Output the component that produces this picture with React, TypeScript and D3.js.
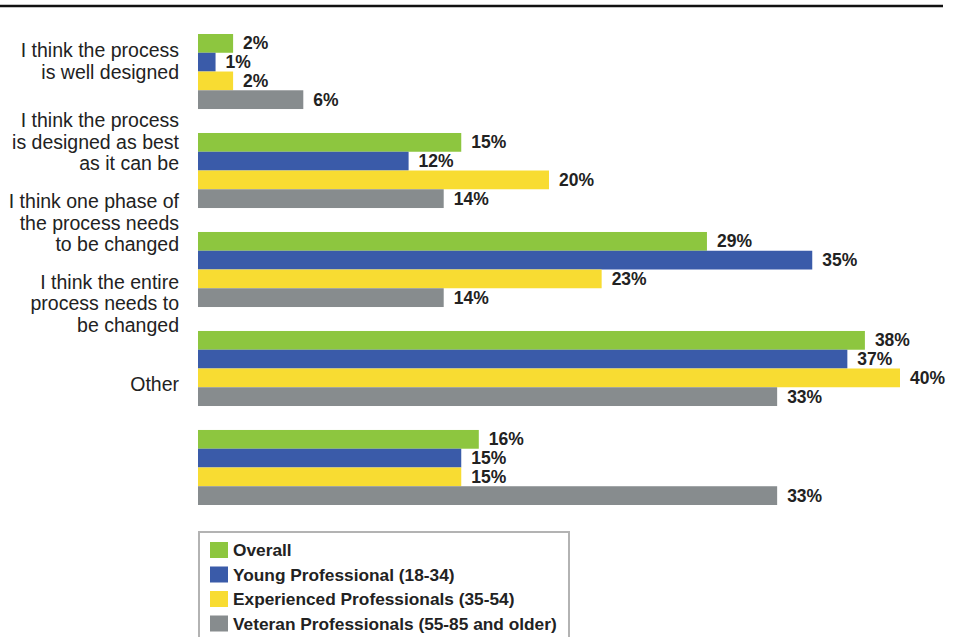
import React, { useEffect, useRef } from "react";
import * as d3 from "d3";

const categories = [
  "I think the process is well designed",
  "I think the process is designed as best as it can be",
  "I think one phase of the process needs to be changed",
  "I think the entire process needs to be changed",
  "Other",
];

// label lines as they are broken in the original
const categoryLines = [
  ["I think the process", "is well designed"],
  ["I think the process", "is designed as best", "as it can be"],
  ["I think one phase of", "the process needs", "to be changed"],
  ["I think the entire", "process needs to", "be changed"],
  ["Other"],
];

const seriesNames = [
  "Overall",
  "Young Professional (18-34)",
  "Experienced Professionals (35-54)",
  "Veteran Professionals (55-85 and older)",
];

const overall = [2, 15, 29, 38, 16];
const young = [1, 12, 35, 37, 15];
const experienced = [2, 20, 23, 40, 15];
const veteran = [6, 14, 14, 33, 33];

const seriesColors = ["#8dc63f", "#3a5ba9", "#f8dc32", "#878c8e"];

const W = 955;
const H = 637;

const App: React.FC = () => {
  const svgRef = useRef<SVGSVGElement>(null);

  useEffect(() => {
    if (!svgRef.current) return;
    const svg = d3.select(svgRef.current);
    svg.selectAll("*").remove();

    const seriesValues = [overall, young, experienced, veteran];

    const x = d3.scaleLinear().domain([0, 40]).range([198, 900]);

    const yGroup = d3
      .scaleBand()
      .domain(categories)
      .range([34, 505])
      .paddingInner(0.242)
      .paddingOuter(0);

    const ySeries = d3
      .scaleBand()
      .domain(seriesNames)
      .range([0, yGroup.bandwidth()]);

    // category labels sit on their own evenly spaced grid
    const yLabel = d3.scalePoint().domain(categories).range([61, 384]);

    // top rule
    svg
      .append("line")
      .attr("x1", 0)
      .attr("x2", 943)
      .attr("y1", 6)
      .attr("y2", 6)
      .attr("stroke", "#111")
      .attr("stroke-width", 2.5);

    // bars
    seriesNames.forEach((name, si) => {
      const vals = seriesValues[si];
      const g = svg.append("g");
      g.selectAll("rect")
        .data(categories)
        .enter()
        .append("rect")
        .attr("x", x(0))
        .attr("y", (c) => (yGroup(c) || 0) + (ySeries(name) || 0))
        .attr("width", (c, i) => x(vals[i]) - x(0))
        .attr("height", ySeries.bandwidth())
        .attr("fill", seriesColors[si]);

      g.selectAll("text")
        .data(categories)
        .enter()
        .append("text")
        .attr("x", (c, i) => x(vals[i]) + 10)
        .attr(
          "y",
          (c) =>
            (yGroup(c) || 0) + (ySeries(name) || 0) + ySeries.bandwidth() / 2
        )
        .attr("dominant-baseline", "central")
        .style("font-family", "'Liberation Sans', Arial, sans-serif")
        .style("font-weight", "bold")
        .style("font-size", "17.5px")
        .style("fill", "#222")
        .text((c, i) => `${vals[i]}%`);
    });

    // category labels
    const lineH = 21.5;
    categories.forEach((c, i) => {
      const lines = categoryLines[i];
      const cy = yLabel(c) || 0;
      const t = svg
        .append("text")
        .attr("text-anchor", "end")
        .style("font-family", "'Liberation Sans', Arial, sans-serif")
        .style("font-size", "19.5px")
        .style("fill", "#222");
      lines.forEach((ln, j) => {
        t.append("tspan")
          .attr("x", 179)
          .attr("y", cy + (j - (lines.length - 1) / 2) * lineH)
          .attr("dominant-baseline", "central")
          .text(ln);
      });
    });

    // legend
    const legend = svg.append("g");
    legend
      .append("rect")
      .attr("x", 199)
      .attr("y", 532)
      .attr("width", 370)
      .attr("height", 120)
      .attr("fill", "#fff")
      .attr("stroke", "#b3b3b3")
      .attr("stroke-width", 2);

    const yLeg = d3
      .scalePoint()
      .domain(seriesNames)
      .range([550, 623.5]);

    seriesNames.forEach((name, i) => {
      const cy = yLeg(name) || 0;
      legend
        .append("rect")
        .attr("x", 210)
        .attr("y", cy - 8)
        .attr("width", 18)
        .attr("height", 16)
        .attr("fill", seriesColors[i]);
      legend
        .append("text")
        .attr("x", 233)
        .attr("y", cy)
        .attr("dominant-baseline", "central")
        .style("font-family", "'Liberation Sans', Arial, sans-serif")
        .style("font-weight", "bold")
        .style("font-size", "17.3px")
        .style("fill", "#222")
        .text(name);
    });
  }, []);

  return (
    <svg
      ref={svgRef}
      width={W}
      height={H}
      style={{ position: "absolute", left: 0, top: 0, display: "block", background: "#fff" }}
    />
  );
};

export default App;
